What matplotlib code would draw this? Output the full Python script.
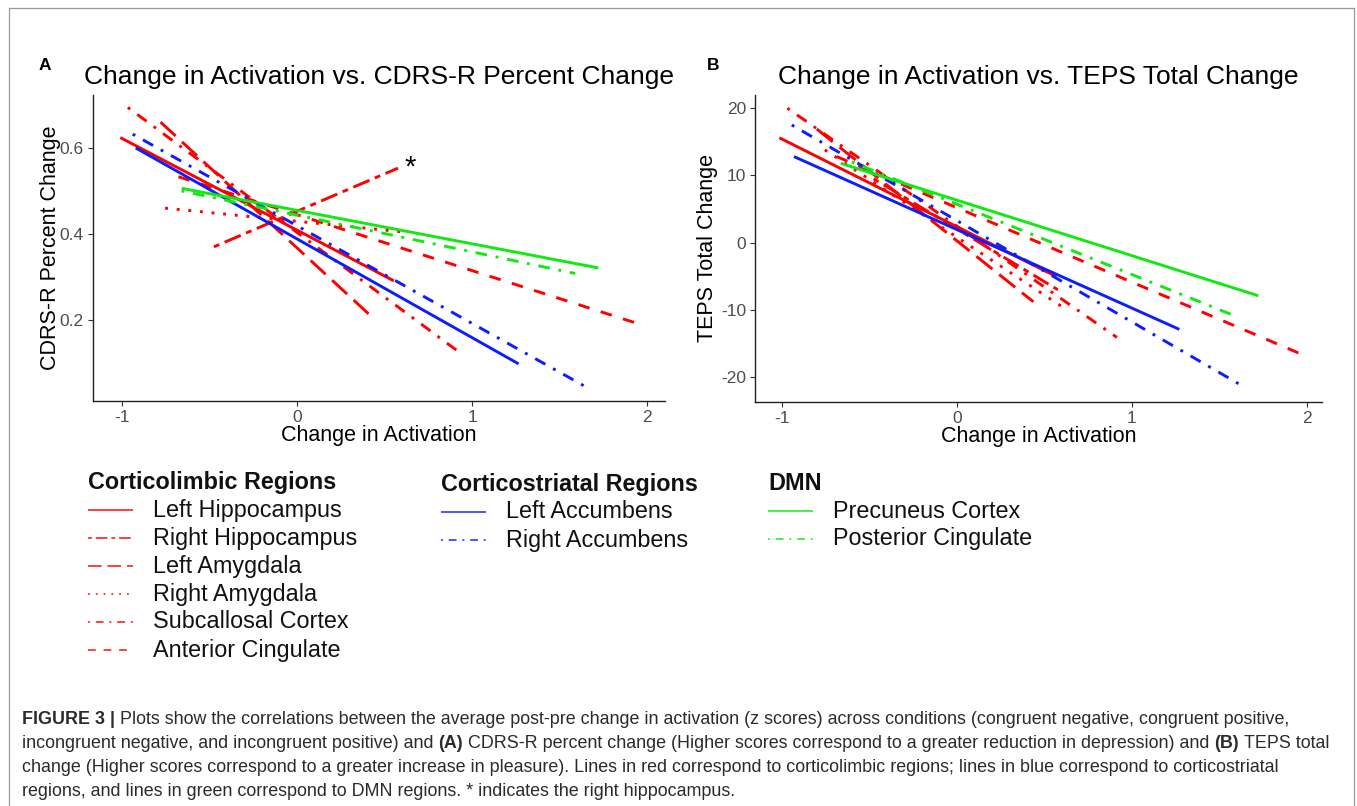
import matplotlib
matplotlib.use("Agg")
import matplotlib.pyplot as plt
from matplotlib.lines import Line2D

plt.rcParams['font.family'] = ['Liberation Sans', 'DejaVu Sans']
plt.rcParams['axes.unicode_minus'] = False

W, H = 1357, 806

# regions, in legend order
regions = ["Left Hippocampus", "Right Hippocampus", "Left Amygdala", "Right Amygdala",
           "Subcallosal Cortex", "Anterior Cingulate",
           "Left Accumbens", "Right Accumbens",
           "Precuneus Cortex", "Posterior Cingulate"]

# panel A: fitted line end points (change in activation vs CDRS-R percent change)
cdrs_x_start = [-1.01, -0.475, -0.78, -0.754, -0.967, -0.678, -0.922, -0.939, -0.659, -0.66]
cdrs_x_end = [0.553, 0.577, 0.436, 0.60, 0.914, 1.96, 1.266, 1.644, 1.722, 1.59]
cdrs_y_start = [0.624, 0.37, 0.66, 0.46, 0.694, 0.533, 0.60, 0.632, 0.506, 0.50]
cdrs_y_end = [0.291, 0.553, 0.204, 0.405, 0.129, 0.19, 0.098, 0.046, 0.321, 0.308]

# panel B: fitted line end points (change in activation vs TEPS total change)
teps_x_start = [-1.014, -0.475, -0.80, -0.754, -0.968, -0.686, -0.93, -0.943, -0.663, -0.60]
teps_x_end = [0.57, 0.577, 0.438, 0.60, 0.915, 1.961, 1.272, 1.645, 1.723, 1.58]
teps_y_start = [15.6, 9.5, 16.9, 13.8, 20.0, 12.8, 12.8, 17.5, 11.8, 12.0]
teps_y_end = [-5.06, -7.0, -8.8, -9.5, -14.1, -16.5, -12.9, -21.5, -7.9, -10.8]

# asterisk marks the right hippocampus in panel A
star_x, star_y = 0.646, 0.535

groups = ["Corticolimbic Regions", "Corticostriatal Regions", "DMN"]
group_members = [[0, 1, 2, 3, 4, 5], [6, 7], [8, 9]]

# styles (ggplot-like linetypes)
RED, BLUE, GREEN = "#ff0000", "#0a1eff", "#12e812"
colors = [RED] * 6 + [BLUE] * 2 + [GREEN] * 2
dashes = {
    "solid": None,
    "dashed": (4, 4),
    "dotted": (1, 3),
    "dotdash": (1, 3, 4, 3),
    "longdash": (7, 3),
    "twodash": (2, 2, 6, 2),
}
linetypes = ["solid", "twodash", "longdash", "dotted", "dotdash", "dashed",
             "solid", "dotdash", "solid", "dotdash"]


def fx(x):
    return x / W


def fy(y):
    return 1 - y / H


def draw_line(ax, x, y, color, lt, lw):
    ln, = ax.plot(x, y, color=color, lw=lw, solid_capstyle="butt",
                  dash_capstyle="butt")
    if dashes[lt] is not None:
        ln.set_dashes(dashes[lt])
    return ln


def style_axes(ax):
    for s in ["top", "right"]:
        ax.spines[s].set_visible(False)
    for s in ["left", "bottom"]:
        ax.spines[s].set_linewidth(1.0)
        ax.spines[s].set_color("#222222")
    ax.tick_params(axis="both", length=3.5, width=0.8, color="#333333",
                   labelcolor="#4d4d4d", labelsize=12.5, pad=3)


fig = plt.figure(figsize=(W / 100, H / 100), dpi=100)

# outer frame
for xs, ys in [([9, 9], [830, 8]), ([9, 1354], [8, 8]), ([1354, 1354], [8, 830])]:
    fig.add_artist(Line2D([fx(v) for v in xs], [fy(v) for v in ys],
                          color="#9a9a9a", lw=0.9))

axA = fig.add_axes([fx(93), fy(401), fx(665 - 93), (401 - 95) / H])
axB = fig.add_axes([fx(755), fy(402), fx(1322 - 755), (402 - 95) / H])

for i in range(len(regions)):
    draw_line(axA, [cdrs_x_start[i], cdrs_x_end[i]], [cdrs_y_start[i], cdrs_y_end[i]],
              colors[i], linetypes[i], 2.1)
    draw_line(axB, [teps_x_start[i], teps_x_end[i]], [teps_y_start[i], teps_y_end[i]],
              colors[i], linetypes[i], 2.1)

axA.text(star_x, star_y, "*", fontsize=21, ha="center", va="baseline", color="black")

axA.set_xlim(-1.166, 2.103)
axA.set_ylim(0.0116, 0.723)
axA.set_xticks([-1, 0, 1, 2])
axA.set_xticklabels(["-1", "0", "1", "2"])
axA.set_yticks([0.2, 0.4, 0.6])
axA.set_yticklabels(["0.2", "0.4", "0.6"])

axB.set_xlim(-1.153, 2.087)
axB.set_ylim(-23.7, 21.96)
axB.set_xticks([-1, 0, 1, 2])
axB.set_xticklabels(["-1", "0", "1", "2"])
axB.set_yticks([-20, -10, 0, 10, 20])
axB.set_yticklabels(["-20", "-10", "0", "10", "20"])

for ax, title, ylab, ylx in [(axA, "Change in Activation vs. CDRS-R Percent Change",
                              "CDRS-R Percent Change", -0.074),
                             (axB, "Change in Activation vs. TEPS Total Change",
                              "TEPS Total Change", -0.083)]:
    style_axes(ax)
    ax.set_title(title, fontsize=19, pad=8, color="black")
    ax.set_xlabel("Change in Activation", fontsize=15.5, color="black")
    ax.set_ylabel(ylab, fontsize=15.5, color="black")
    ax.xaxis.set_label_coords(0.5, -0.113)
    ax.yaxis.set_label_coords(ylx, 0.5)
    ax.xaxis.label.set_va("center")
    ax.yaxis.label.set_va("center")

fig.text(fx(45), fy(65), "A", fontsize=12.5, fontweight="bold", ha="center", va="center")
fig.text(fx(713), fy(65), "B", fontsize=12.5, fontweight="bold", ha="center", va="center")

# legend (drawn as a separate block below the panels)
legend_pos = [(88, 482), (441, 484), (768, 483)]
row_gap = 28
handle_len = 45
text_gap = 20
leg_size = 16.8
for g, (gx, gy) in enumerate(legend_pos):
    fig.text(fx(gx), fy(gy), groups[g], fontsize=leg_size, fontweight="bold",
             ha="left", va="center", color="#111111")
    for k, idx in enumerate(group_members[g]):
        ry = gy + row_gap * (k + 1)
        ln = Line2D([fx(gx), fx(gx + handle_len)], [fy(ry), fy(ry)], color=colors[idx],
                    lw=1.4, alpha=0.75, dash_capstyle="butt", solid_capstyle="butt")
        if dashes[linetypes[idx]] is not None:
            ln.set_dashes(dashes[linetypes[idx]])
        fig.add_artist(ln)
        fig.text(fx(gx + handle_len + text_gap), fy(ry), regions[idx], fontsize=leg_size,
                 ha="left", va="center", color="#111111")

# caption with bold runs
caption_lines = [
    [("FIGURE 3 |", True), ("Plots show the correlations between the average post-pre change in activation (z scores) across conditions (congruent negative, congruent positive,", False)],
    [("incongruent negative, and incongruent positive) and", False), ("(A)", True),
     ("CDRS-R percent change (Higher scores correspond to a greater reduction in depression) and", False),
     ("(B)", True), ("TEPS total", False)],
    [("change (Higher scores correspond to a greater increase in pleasure). Lines in red correspond to corticolimbic regions; lines in blue correspond to corticostriatal", False)],
    [("regions, and lines in green correspond to DMN regions. * indicates the right hippocampus.", False)],
]
cap_font = ['Liberation Sans', 'DejaVu Sans']
cap_size = 12.85
renderer = fig.canvas.get_renderer()
probe1 = fig.text(0, 0, "x x", fontsize=cap_size, family=cap_font)
probe2 = fig.text(0, 0, "xx", fontsize=cap_size, family=cap_font)
space_w = probe1.get_window_extent(renderer).width - probe2.get_window_extent(renderer).width
probe1.remove()
probe2.remove()

for li, runs in enumerate(caption_lines):
    x = 22
    y = 719 + li * 24.2
    for s, bold in runs:
        t = fig.text(fx(x), fy(y), s, fontsize=cap_size, family=cap_font,
                     fontweight="bold" if bold else "normal", color="#2b2b2b",
                     ha="left", va="center")
        x += t.get_window_extent(renderer).width + space_w

fig.savefig("out.png", dpi=100)
